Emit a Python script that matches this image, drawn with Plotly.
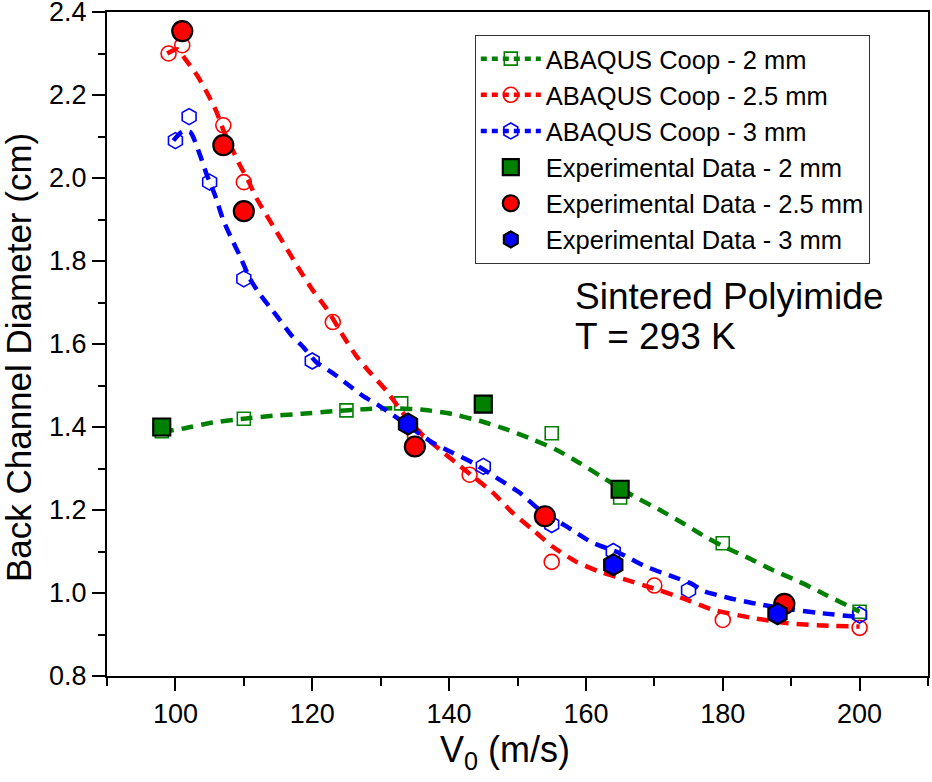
import plotly.graph_objects as go

# ---------------- data ----------------
# ABAQUS Coop simulation points (open markers)
abq2_x = [98, 110, 125, 133, 155, 165, 180, 200]
abq2_y = [1.39, 1.42, 1.44, 1.457, 1.385, 1.23, 1.12, 0.955]

abq25_x = [99, 101, 107, 110, 123, 135, 143, 155, 170, 180, 200]
abq25_y = [2.30, 2.32, 2.127, 1.99, 1.653, 1.38, 1.285, 1.075, 1.018, 0.935, 0.916]

abq3_x = [100, 102, 105, 110, 120, 134, 145, 155, 164, 175, 200]
abq3_y = [2.09, 2.148, 1.99, 1.757, 1.559, 1.41, 1.305, 1.165, 1.10, 1.007, 0.947]

# Experimental data (filled markers)
exp2_x = [98, 145, 165]
exp2_y = [1.40, 1.455, 1.25]

exp25_x = [101, 107, 110, 135, 154, 189]
exp25_y = [2.354, 2.079, 1.92, 1.353, 1.185, 0.974]

exp3_x = [134, 164, 188]
exp3_y = [1.407, 1.068, 0.95]

# Dashed fit curves
fit2_x = [98, 101, 105.5, 110, 114.3, 118.5, 123, 127.6, 132, 136.5, 140.5, 144.4,
          148.3, 152.2, 155.6, 159, 162, 166.8, 170.7, 174, 177, 180, 183.8, 187.2,
          191.1, 195, 200]
fit2_y = [1.388, 1.396, 1.411, 1.420, 1.427, 1.432, 1.438, 1.443, 1.445, 1.441, 1.431, 1.415,
          1.395, 1.370, 1.346, 1.314, 1.283, 1.235, 1.201, 1.170, 1.140, 1.113, 1.084, 1.056,
          1.028, 0.996, 0.955]

fit25_x = [98.8, 100.3, 101.5, 103.3, 104.8, 106, 107, 109.3, 110.6, 111.9, 114.8, 117,
           118.2, 120.1, 122.1, 124.5, 126.4, 128.4, 130.8, 133.2, 135.7, 138.6, 141, 143.4,
           146.4, 149.3, 152.2, 155.1, 158.5, 161.9, 165.8, 169.7, 174, 178.5, 184.3, 189.6,
           195.5, 200]
fit25_y = [2.30, 2.31, 2.285, 2.244, 2.200, 2.160, 2.116, 2.035, 1.995, 1.950, 1.870, 1.81,
           1.777, 1.729, 1.685, 1.620, 1.572, 1.532, 1.488, 1.435, 1.387, 1.346, 1.314, 1.282,
           1.242, 1.193, 1.153, 1.112, 1.076, 1.052, 1.032, 1.012, 0.988, 0.960, 0.940, 0.927,
           0.921, 0.919]

fit3_x = [99.7, 101, 102.2, 103.6, 104.6, 105.8, 107, 108.2, 109.4, 110.9, 112.3, 113.8,
          115.3, 117, 118.7, 120.6, 123, 125, 127.4, 129.8, 132.3, 137.6, 140.5, 143.4,
          147.3, 150.3, 153.2, 157.1, 161, 164.8, 168.7, 172.6, 175.5, 177, 180.9, 184.3,
          190.1, 194, 199.4]
fit3_y = [2.09, 2.112, 2.11, 2.055, 2.007, 1.958, 1.898, 1.854, 1.813, 1.757, 1.721, 1.689,
          1.657, 1.620, 1.592, 1.556, 1.530, 1.505, 1.475, 1.451, 1.423, 1.362, 1.338, 1.314,
          1.274, 1.242, 1.201, 1.161, 1.121, 1.097, 1.064, 1.040, 1.022, 1.006, 0.988, 0.976,
          0.960, 0.952, 0.943]

x_ticks = [100, 120, 140, 160, 180, 200]
y_ticks = [0.8, 1.0, 1.2, 1.4, 1.6, 1.8, 2.0, 2.2, 2.4]

names_abq = ["ABAQUS Coop - 2 mm", "ABAQUS Coop - 2.5 mm", "ABAQUS Coop - 3 mm"]
names_exp = ["Experimental Data - 2 mm", "Experimental Data - 2.5 mm", "Experimental Data - 3 mm"]
note_lines = ["Sintered Polyimide", "T = 293 K"]
x_title = "V<sub>0</sub> (m/s)"
y_title = "Back Channel Diameter (cm)"

# ---------------- styling ----------------
GREEN, RED, BLUE = "#008000", "#FF0000", "#0000FF"
FONT = "Liberation Sans, Arial, sans-serif"
DASH = "12px,8px"
LW = 4.5

fig = go.Figure()

abq_sets = [(abq2_x, abq2_y, GREEN, "square-open", 13),
            (abq25_x, abq25_y, RED, "circle-open", 15),
            (abq3_x, abq3_y, BLUE, "hexagon-open", 16)]
fit_sets = [(fit2_x, fit2_y, GREEN), (fit25_x, fit25_y, RED), (fit3_x, fit3_y, BLUE)]
exp_sets = [(exp2_x, exp2_y, GREEN, "square", 17),
            (exp25_x, exp25_y, RED, "circle", 20),
            (exp3_x, exp3_y, BLUE, "hexagon", 21)]

# open simulation markers
for (x, y, c, sym, sz) in abq_sets:
    fig.add_trace(go.Scatter(x=x, y=y, mode="markers", showlegend=False,
                             marker=dict(symbol=sym, size=sz, color=c, line=dict(width=1.6, color=c))))

# dashed fit curves
for (x, y, c) in fit_sets:
    fig.add_trace(go.Scatter(x=x, y=y, mode="lines", showlegend=False,
                             line=dict(color=c, width=LW, dash=DASH, shape="spline", smoothing=0.6)))

# legend entries for simulations (line + open marker)
for (x, y, c, sym, sz), nm in zip(abq_sets, names_abq):
    fig.add_trace(go.Scatter(x=[None], y=[None], mode="lines+markers", name=nm,
                             line=dict(color=c, width=LW, dash="6px,5px"),
                             marker=dict(symbol=sym, size=sz, color=c, line=dict(width=1.6, color=c))))

# experimental markers
for (x, y, c, sym, sz), nm in zip(exp_sets, names_exp):
    fig.add_trace(go.Scatter(x=x, y=y, mode="markers", name=nm,
                             marker=dict(symbol=sym, size=sz, color=c, line=dict(width=2.2, color="black"))))

# note text (two lines)
for txt, yy in zip(note_lines, [1.7136, 1.617]):
    fig.add_annotation(x=158.1, y=yy, xref="x", yref="y", xanchor="left", yanchor="middle",
                       align="left", showarrow=False, text=txt,
                       font=dict(family=FONT, size=37, color="black"))

# axis titles placed as annotations for exact positioning
fig.add_annotation(x=0.485, y=-0.114, xref="paper", yref="paper", xanchor="center", yanchor="middle",
                   showarrow=False, text=x_title, font=dict(family=FONT, size=36, color="black"))
fig.add_annotation(x=-0.107, y=0.479, xref="paper", yref="paper", xanchor="center", yanchor="middle",
                   showarrow=False, text=y_title, textangle=-90,
                   font=dict(family=FONT, size=35, color="black"))

fig.update_layout(
    width=932, height=782,
    margin=dict(l=107, r=4, t=12, b=106, autoexpand=False),
    paper_bgcolor="white", plot_bgcolor="white",
    font=dict(family=FONT, color="black"),
    legend=dict(x=0.448, y=0.966, xanchor="left", yanchor="top",
                bgcolor="white", bordercolor="#333333", borderwidth=1,
                font=dict(family=FONT, size=25.5, color="black"),
                itemwidth=60, tracegroupgap=0, traceorder="normal"),
)

fig.update_xaxes(range=[90, 210], tickvals=x_ticks, ticktext=[str(v) for v in x_ticks],
                 automargin=False, ticklabeloverflow="allow",
                 ticks="outside", ticklen=13, tickwidth=2, tickcolor="black",
                 minor=dict(dtick=10, tick0=90, ticks="outside", ticklen=8, tickwidth=2, tickcolor="black"),
                 showline=True, linewidth=2, linecolor="black", mirror=True,
                 showgrid=False, zeroline=False,
                 tickfont=dict(family=FONT, size=27, color="black"))

fig.update_yaxes(range=[0.8, 2.4], tickvals=y_ticks, ticktext=[f"{v:.1f}" for v in y_ticks],
                 automargin=False, ticklabeloverflow="allow",
                 ticks="outside", ticklen=13, tickwidth=2, tickcolor="black",
                 minor=dict(dtick=0.1, tick0=0.8, ticks="outside", ticklen=7, tickwidth=2, tickcolor="black"),
                 showline=True, linewidth=2, linecolor="black", mirror=True,
                 showgrid=False, zeroline=False,
                 tickfont=dict(family=FONT, size=27, color="black"))

fig.write_html("out.html", config={"displayModeBar": False},
               post_script="document.body.style.margin='0';")
